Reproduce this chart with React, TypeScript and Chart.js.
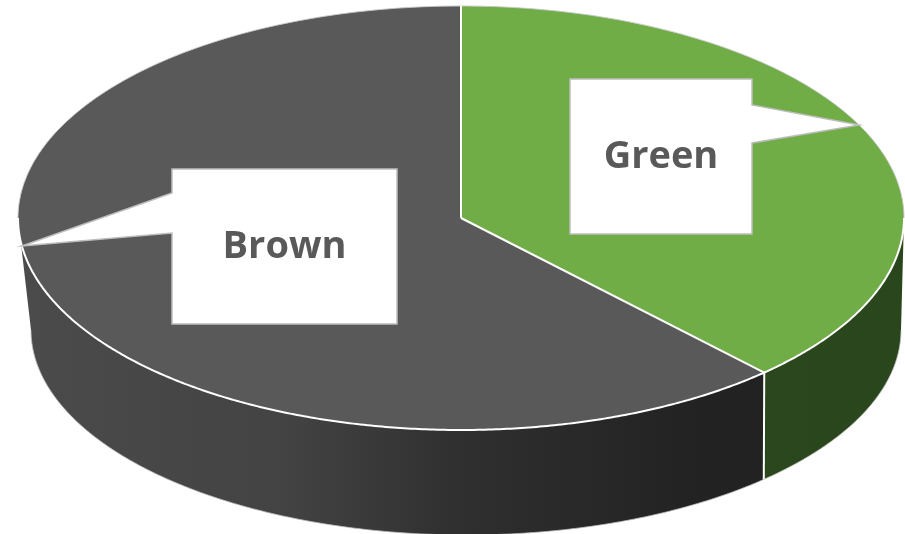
import { useEffect, useRef } from 'react';
import { Chart, registerables } from 'chart.js';

Chart.register(...registerables);

// Slice data (clockwise from 12 o'clock)
const categories = ['Green', 'Brown'];
const values = [38, 62];

// Top-face and side-wall colours per slice
const topColors = ['#70AD47', '#595959'];
const sideStops: [number, string][][] = [
  [
    [0, '#2F4D20'],
    [1, '#2A461C'],
  ],
  [
    [0, '#4B4B4B'],
    [0.3, '#434343'],
    [0.5, '#2F2F2F'],
    [0.75, '#232323'],
    [1, '#1F1F1F'],
  ],
];

// Projected geometry of the disc: top face ellipse and the base ellipse
const TOP = { cx: 461, cy: 218, rx: 443, ry: 212 };
const BASE = { cx: 466, cy: 330, rx: 435, ry: 205 };

// Callout boxes: [left, top, right, bottom], the edge the pointer leaves from,
// the pointer's neck on that edge and the rim angle (deg, canvas convention) it points at
const callouts = [
  { box: [570, 79, 752, 234], edge: 'right', neck: [105, 143], tipDeg: -26 },
  { box: [172, 169, 397, 324], edge: 'left', neck: [193, 233], tipDeg: 172.4 },
];

type Ell = { cx: number; cy: number; rx: number; ry: number };
const pt = (e: Ell, t: number): [number, number] => [e.cx + e.rx * Math.cos(t), e.cy + e.ry * Math.sin(t)];

function traceRim(ctx: CanvasRenderingContext2D, e: Ell, a: number, b: number, move: boolean) {
  const n = Math.max(2, Math.ceil(Math.abs(b - a) * 120));
  for (let i = 0; i <= n; i++) {
    const [x, y] = pt(e, a + ((b - a) * i) / n);
    if (i === 0 && move) ctx.moveTo(x, y);
    else ctx.lineTo(x, y);
  }
}

// Portions of [s, e] that face the viewer (canvas angles 0..PI)
function frontParts(s: number, e: number): [number, number][] {
  const out: [number, number][] = [];
  for (let k = -1; k <= 1; k++) {
    const lo = Math.max(s, k * 2 * Math.PI);
    const hi = Math.min(e, k * 2 * Math.PI + Math.PI);
    if (hi > lo) out.push([lo - k * 2 * Math.PI, hi - k * 2 * Math.PI]);
  }
  return out;
}

const pie3d = {
  id: 'pie3d',
  beforeDatasetsDraw(chart: any) {
    const ctx: CanvasRenderingContext2D = chart.ctx;
    const arcs = chart.getDatasetMeta(0).data as any[];

    // side walls
    arcs.forEach((arc, i) => {
      const { startAngle, endAngle } = arc.getProps(['startAngle', 'endAngle'], true);
      frontParts(startAngle, endAngle).forEach(([a, b]) => {
        const g = ctx.createLinearGradient(TOP.cx - TOP.rx, 0, TOP.cx + TOP.rx, 0);
        sideStops[i].forEach(([o, c]) => g.addColorStop(o, c));
        ctx.beginPath();
        traceRim(ctx, TOP, a, b, true);
        traceRim(ctx, BASE, b, a, false);
        ctx.closePath();
        ctx.fillStyle = g;
        ctx.fill();
      });
    });

    // faint outline round the base
    ctx.save();
    ctx.beginPath();
    traceRim(ctx, BASE, 0, Math.PI, true);
    ctx.strokeStyle = 'rgba(190,190,190,0.8)';
    ctx.lineWidth = 1;
    ctx.stroke();
    ctx.restore();

    // squash the library's circular pie onto the top ellipse
    const a0 = arcs[0];
    const { x, y, outerRadius } = a0.getProps(['x', 'y', 'outerRadius'], true);
    ctx.save();
    ctx.translate(TOP.cx, TOP.cy);
    ctx.scale(TOP.rx / outerRadius, TOP.ry / outerRadius);
    ctx.translate(-x, -y);
  },
  afterDatasetsDraw(chart: any) {
    const ctx: CanvasRenderingContext2D = chart.ctx;
    ctx.restore();
    const arcs = chart.getDatasetMeta(0).data as any[];

    ctx.save();
    // faint outline round the back of the top face
    ctx.beginPath();
    traceRim(ctx, TOP, Math.PI, 2 * Math.PI, true);
    ctx.strokeStyle = 'rgba(200,200,200,0.9)';
    ctx.lineWidth = 1;
    ctx.stroke();

    ctx.strokeStyle = '#ffffff';
    ctx.lineWidth = 2;
    ctx.lineJoin = 'round';
    // front edge of the top face
    ctx.beginPath();
    traceRim(ctx, TOP, 0, Math.PI, true);
    ctx.stroke();

    // slice boundaries on the top face and down the wall
    arcs.forEach((arc) => {
      const { startAngle } = arc.getProps(['startAngle'], true);
      const [tx, ty] = pt(TOP, startAngle);
      ctx.beginPath();
      ctx.moveTo(TOP.cx, TOP.cy);
      ctx.lineTo(tx, ty);
      ctx.stroke();
      let t = startAngle;
      while (t < 0) t += 2 * Math.PI;
      while (t > 2 * Math.PI) t -= 2 * Math.PI;
      if (t > 0.01 && t < Math.PI - 0.01) {
        const [bx, by] = pt(BASE, t);
        ctx.beginPath();
        ctx.moveTo(tx, ty);
        ctx.lineTo(bx, by);
        ctx.stroke();
      }
    });
    ctx.restore();
  },
  afterDraw(chart: any) {
    const ctx: CanvasRenderingContext2D = chart.ctx;
    ctx.save();
    callouts.forEach((c, i) => {
      const [l, t, r, b] = c.box;
      const [n1, n2] = c.neck;
      const [px, py] = pt(TOP, (c.tipDeg * Math.PI) / 180);
      ctx.beginPath();
      if (c.edge === 'right') {
        ctx.moveTo(l, t);
        ctx.lineTo(r, t);
        ctx.lineTo(r, n1);
        ctx.lineTo(px, py);
        ctx.lineTo(r, n2);
        ctx.lineTo(r, b);
        ctx.lineTo(l, b);
      } else {
        ctx.moveTo(l, t);
        ctx.lineTo(r, t);
        ctx.lineTo(r, b);
        ctx.lineTo(l, b);
        ctx.lineTo(l, n2);
        ctx.lineTo(px, py);
        ctx.lineTo(l, n1);
      }
      ctx.closePath();
      ctx.fillStyle = '#ffffff';
      ctx.fill();
      ctx.strokeStyle = '#BDBDBD';
      ctx.lineWidth = 1.5;
      ctx.lineJoin = 'miter';
      ctx.stroke();

      ctx.fillStyle = '#595959';
      ctx.font = 'bold 38px "Open Sans", sans-serif';
      ctx.textAlign = 'center';
      ctx.textBaseline = 'middle';
      ctx.fillText(categories[i], (l + r) / 2, (t + b) / 2 + 1);
    });
    ctx.restore();
  },
};

export default function App() {
  const ref = useRef<HTMLCanvasElement>(null);

  useEffect(() => {
    if (!ref.current) return;
    const chart = new Chart(ref.current, {
      type: 'pie',
      data: {
        labels: categories,
        datasets: [
          {
            data: values,
            backgroundColor: topColors,
            borderWidth: 0,
            hoverOffset: 0,
            clip: false,
          } as any,
        ],
      },
      options: {
        responsive: false,
        animation: false,
        events: [],
        layout: { padding: 0 },
        plugins: {
          legend: { display: false },
          tooltip: { enabled: false },
        },
      },
      plugins: [pie3d],
    });
    return () => chart.destroy();
  }, []);

  return (
    <div style={{ position: 'absolute', left: 0, top: 0, width: 905, height: 534, background: '#ffffff' }}>
      <canvas ref={ref} width={905} height={534} style={{ display: 'block' }} />
    </div>
  );
}
